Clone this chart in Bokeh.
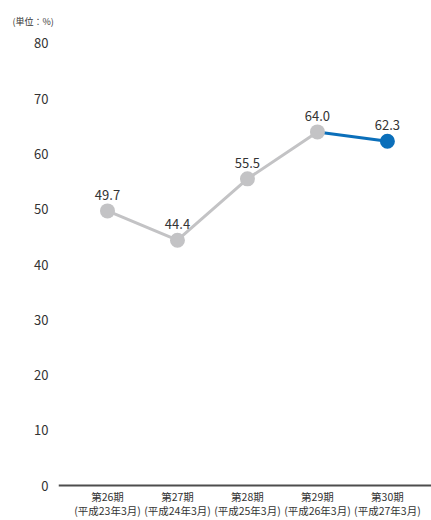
from bokeh.plotting import figure
from bokeh.models import Range1d, FixedTicker, ColumnDataSource
from bokeh.embed import file_html
from bokeh.resources import INLINE
from bokeh.core.properties import value

periods = ["第26期", "第27期", "第28期", "第29期", "第30期"]
dates = ["(平成23年3月)", "(平成24年3月)", "(平成25年3月)", "(平成26年3月)", "(平成27年3月)"]
ratio = [49.7, 44.4, 55.5, 64.0, 62.3]
y_ticks = [0, 10, 20, 30, 40, 50, 60, 70, 80]

FONT = "'Noto Sans CJK JP', sans-serif"
GRAY = "#c3c3c5"
BLUE = "#0b6fba"

xs = list(range(len(periods)))

p = figure(width=431, height=520, output_backend="svg", toolbar_location=None,
           x_range=Range1d(-0.7, 4.63), y_range=Range1d(-6.33, 82.35),
           min_border_left=58, min_border_right=0, min_border_top=30, min_border_bottom=0,
           title="(単位：%)")
p.outline_line_color = None
p.grid.visible = False
p.background_fill_color = "white"
p.border_fill_color = "white"

p.title.text_font = FONT
p.title.text_font_size = "9px"
p.title.text_font_style = "normal"
p.title.text_color = "#333333"
p.title.offset = -46
p.title.standoff = 6

# x axis drawn at y = 0
p.xaxis.fixed_location = 0
p.xaxis.ticker = FixedTicker(ticks=xs)
p.xaxis.major_label_overrides = {i: f"{periods[i]}\n{dates[i]}" for i in xs}
p.xaxis.axis_line_color = "#4d4d4d"
p.xaxis.axis_line_width = 2
p.xaxis.major_tick_line_color = None
p.xaxis.minor_tick_line_color = None
p.xaxis.major_tick_out = 0
p.xaxis.major_tick_in = 0
p.xaxis.minor_tick_out = 0
p.xaxis.minor_tick_in = 0
p.xaxis.major_label_text_font = FONT
p.xaxis.major_label_text_font_size = "10.5px"
p.xaxis.major_label_text_line_height = 0.95
p.xaxis.major_label_text_color = "#333333"
p.xaxis.major_label_standoff = 3

# y axis
p.yaxis.ticker = FixedTicker(ticks=y_ticks)
p.yaxis.axis_line_color = None
p.yaxis.major_tick_line_color = None
p.yaxis.minor_tick_line_color = None
p.yaxis.major_tick_out = 0
p.yaxis.major_tick_in = 0
p.yaxis.minor_tick_out = 0
p.yaxis.minor_tick_in = 0
p.yaxis.major_label_text_font = FONT
p.yaxis.major_label_text_font_size = "13px"
p.yaxis.major_label_text_color = "#333333"
p.yaxis.major_label_standoff = 10

# lines
p.line(xs[:4], ratio[:4], line_color=GRAY, line_width=3)
p.line(xs[3:], ratio[3:], line_color=BLUE, line_width=3)

colors = [GRAY] * 4 + [BLUE]
src = ColumnDataSource(dict(x=xs, y=ratio, c=colors, t=[f"{v:.1f}" for v in ratio]))
p.scatter("x", "y", source=src, size=15, fill_color="c", line_color=None)
p.text("x", "y", text="t", source=src, text_align="center", text_baseline="bottom",
       y_offset=-11, text_font=value(FONT), text_font_size="13px", text_color="#333333")

open("out.html", "w").write(file_html(p, INLINE))
